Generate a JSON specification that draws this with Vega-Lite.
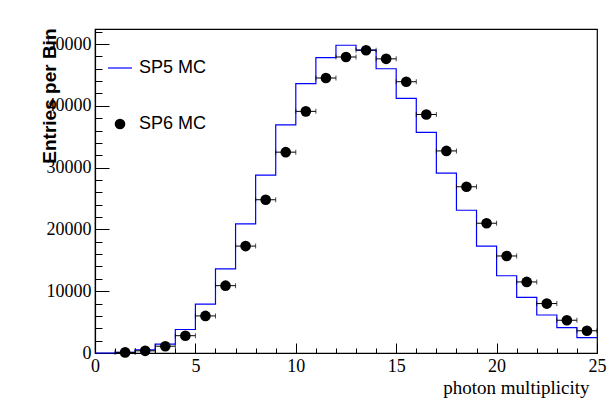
{
  "$schema": "https://vega.github.io/schema/vega-lite/v6.json",
  "width": 502,
  "height": 324,
  "autosize": {"type": "none"},
  "padding": {"left": 95, "top": 29, "right": 12, "bottom": 67},
  "background": "#ffffff",
  "config": {
    "view": {"stroke": "#000000", "strokeWidth": 1.2},
    "axis": {"grid": false}
  },
  "datasets": {
    "sp5": [
      {"x": 0, "y": 0, "series": "SP5 MC"},
      {"x": 1, "y": 100, "series": "SP5 MC"},
      {"x": 2, "y": 500, "series": "SP5 MC"},
      {"x": 3, "y": 1450, "series": "SP5 MC"},
      {"x": 4, "y": 3800, "series": "SP5 MC"},
      {"x": 5, "y": 7900, "series": "SP5 MC"},
      {"x": 6, "y": 13600, "series": "SP5 MC"},
      {"x": 7, "y": 20900, "series": "SP5 MC"},
      {"x": 8, "y": 28800, "series": "SP5 MC"},
      {"x": 9, "y": 36900, "series": "SP5 MC"},
      {"x": 10, "y": 43600, "series": "SP5 MC"},
      {"x": 11, "y": 47800, "series": "SP5 MC"},
      {"x": 12, "y": 49800, "series": "SP5 MC"},
      {"x": 13, "y": 49000, "series": "SP5 MC"},
      {"x": 14, "y": 46000, "series": "SP5 MC"},
      {"x": 15, "y": 41200, "series": "SP5 MC"},
      {"x": 16, "y": 35700, "series": "SP5 MC"},
      {"x": 17, "y": 29100, "series": "SP5 MC"},
      {"x": 18, "y": 23100, "series": "SP5 MC"},
      {"x": 19, "y": 17300, "series": "SP5 MC"},
      {"x": 20, "y": 12500, "series": "SP5 MC"},
      {"x": 21, "y": 9000, "series": "SP5 MC"},
      {"x": 22, "y": 6150, "series": "SP5 MC"},
      {"x": 23, "y": 4100, "series": "SP5 MC"},
      {"x": 24, "y": 2500, "series": "SP5 MC"},
      {"x": 25, "y": 2500, "series": "SP5 MC"}
    ],
    "sp6": [
      {"x": 1.5, "y": 100, "ex": 0.5, "series": "SP6 MC"},
      {"x": 2.5, "y": 350, "ex": 0.5, "series": "SP6 MC"},
      {"x": 3.5, "y": 1100, "ex": 0.5, "series": "SP6 MC"},
      {"x": 4.5, "y": 2800, "ex": 0.5, "series": "SP6 MC"},
      {"x": 5.5, "y": 6000, "ex": 0.5, "series": "SP6 MC"},
      {"x": 6.5, "y": 10900, "ex": 0.5, "series": "SP6 MC"},
      {"x": 7.5, "y": 17300, "ex": 0.5, "series": "SP6 MC"},
      {"x": 8.5, "y": 24800, "ex": 0.5, "series": "SP6 MC"},
      {"x": 9.5, "y": 32500, "ex": 0.5, "series": "SP6 MC"},
      {"x": 10.5, "y": 39100, "ex": 0.5, "series": "SP6 MC"},
      {"x": 11.5, "y": 44500, "ex": 0.5, "series": "SP6 MC"},
      {"x": 12.5, "y": 47900, "ex": 0.5, "series": "SP6 MC"},
      {"x": 13.5, "y": 49000, "ex": 0.5, "series": "SP6 MC"},
      {"x": 14.5, "y": 47600, "ex": 0.5, "series": "SP6 MC"},
      {"x": 15.5, "y": 43900, "ex": 0.5, "series": "SP6 MC"},
      {"x": 16.5, "y": 38600, "ex": 0.5, "series": "SP6 MC"},
      {"x": 17.5, "y": 32700, "ex": 0.5, "series": "SP6 MC"},
      {"x": 18.5, "y": 26900, "ex": 0.5, "series": "SP6 MC"},
      {"x": 19.5, "y": 21000, "ex": 0.5, "series": "SP6 MC"},
      {"x": 20.5, "y": 15700, "ex": 0.5, "series": "SP6 MC"},
      {"x": 21.5, "y": 11500, "ex": 0.5, "series": "SP6 MC"},
      {"x": 22.5, "y": 8000, "ex": 0.5, "series": "SP6 MC"},
      {"x": 23.5, "y": 5300, "ex": 0.5, "series": "SP6 MC"},
      {"x": 24.5, "y": 3600, "ex": 0.5, "series": "SP6 MC"}
    ]
  },
  "resolve": {"axis": {"x": "independent", "y": "independent"}},
  "layer": [
    {
      "data": {"name": "sp5"},
      "mark": {"type": "line", "interpolate": "step-after", "strokeWidth": 1.2},
      "encoding": {
        "x": {
          "field": "x", "type": "quantitative",
          "scale": {"domain": [0, 25], "nice": false, "zero": false},
          "axis": {
            "orient": "bottom", "values": [0, 5, 10, 15, 20, 25], "format": "d",
            "tickSize": -10, "tickColor": "#000000", "tickWidth": 1,
            "domainColor": "#000000", "domainWidth": 1.2,
            "labelFont": "Liberation Serif", "labelFontSize": 18, "labelColor": "#000000",
            "labelPadding": 14, "labelFlush": false, "labelOverlap": false,
            "title": "photon multiplicity", "titleFont": "Liberation Serif", "titleFontSize": 19,
            "titleFontWeight": "normal", "titleColor": "#000000",
            "titleAlign": "right", "titleAnchor": "end", "titleBaseline": "alphabetic",
            "titleX": 494, "titleY": 40
          }
        },
        "y": {
          "field": "y", "type": "quantitative",
          "scale": {"domain": [0, 52430], "nice": false},
          "axis": {
            "orient": "left", "values": [0, 10000, 20000, 30000, 40000, 50000], "format": "d",
            "tickSize": -14, "tickColor": "#000000", "tickWidth": 1,
            "domainColor": "#000000", "domainWidth": 1.2,
            "labelFont": "Liberation Serif", "labelFontSize": 18, "labelColor": "#000000",
            "labelPadding": 18, "labelFlush": false, "labelOverlap": false,
            "title": "Entries per Bin", "titleFont": "Liberation Sans", "titleFontSize": 19,
            "titleFontWeight": "bold", "titleColor": "#000000",
            "titleAngle": -90, "titleAlign": "right", "titleBaseline": "alphabetic",
            "titleX": -40, "titleY": -1
          }
        },
        "color": {
          "field": "series", "type": "nominal",
          "scale": {"domain": ["SP5 MC", "SP6 MC"], "range": ["#0000ff", "#000000"]},
          "legend": {
            "orient": "none", "legendX": 16, "legendY": 30, "padding": 0,
            "title": null, "symbolSize": 576, "symbolType": "stroke",
            "labelFont": "Liberation Sans", "labelFontSize": 18, "labelColor": "#000000",
            "labelOffset": 10, "rowPadding": 38,
            "encode": {
              "symbols": {
                "update": {
                  "shape": {"signal": "datum.value === 'SP5 MC' ? 'stroke' : 'circle'"},
                  "size": {"signal": "datum.value === 'SP5 MC' ? 576 : 113"},
                  "fill": {"signal": "datum.value === 'SP5 MC' ? 'transparent' : '#000000'"},
                  "stroke": {"signal": "datum.value === 'SP5 MC' ? '#0000ff' : '#000000'"},
                  "strokeWidth": {"signal": "datum.value === 'SP5 MC' ? 1.2 : 0"},
                  "opacity": {"value": 1}
                }
              }
            }
          }
        }
      }
    },
    {
      "data": {"name": "sp6"},
      "mark": {"type": "errorbar", "ticks": {"size": 5, "color": "#000000"}, "rule": {"color": "#000000", "strokeWidth": 1}},
      "encoding": {
        "x": {"field": "x", "type": "quantitative", "axis": null},
        "xError": {"field": "ex"},
        "y": {"field": "y", "type": "quantitative", "axis": null}
      }
    },
    {
      "data": {"name": "sp6"},
      "mark": {"type": "point", "filled": true, "size": 113, "opacity": 1, "shape": "circle"},
      "encoding": {
        "x": {
          "field": "x", "type": "quantitative",
          "axis": {
            "orient": "bottom", "values": [1,2,3,4,6,7,8,9,11,12,13,14,16,17,18,19,21,22,23,24],
            "tickSize": -5, "tickColor": "#000000", "tickWidth": 1,
            "domain": false, "labels": false, "title": null
          }
        },
        "y": {
          "field": "y", "type": "quantitative",
          "axis": {
            "orient": "left", "values": [2000,4000,6000,8000,12000,14000,16000,18000,22000,24000,26000,28000,32000,34000,36000,38000,42000,44000,46000,48000,52000],
            "tickSize": -7, "tickColor": "#000000", "tickWidth": 1,
            "domain": false, "labels": false, "title": null
          }
        },
        "color": {"field": "series", "type": "nominal"}
      }
    }
  ]
}
